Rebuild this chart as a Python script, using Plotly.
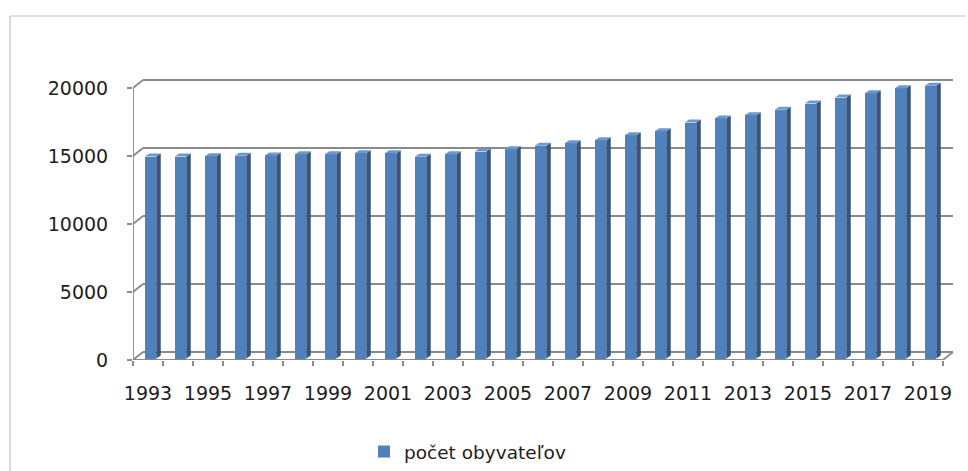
import numpy as np
import plotly.graph_objects as go

# ---- data ----
years = list(range(1993, 2020))
population = [14850, 14850, 14870, 14900, 14930, 15020, 15020, 15100, 15100,
              14830, 15020, 15220, 15390, 15640, 15830, 16050, 16420, 16710,
              17350, 17650, 17890, 18290, 18750, 19190, 19510, 19870, 20050]
y_ticks = [0, 5000, 10000, 15000, 20000]
label_years = [y for y in years if (y - 1993) % 2 == 0]
series_name = "počet obyvateľov"

# ---- geometry (pixel based layout) ----
W, H = 968, 471
ML, MR, MT, MB = 133, 13, 78, 111
plot_w = W - ML - MR
plot_h = H - MT - MB
px_per_year = 30.0
px_per_unit = 272.0 / 20000.0
x0 = years[0] - 0.5
x1 = years[-1] + 0.5
x_range = [x0, x0 + plot_w / px_per_year]
y_range = [0, plot_h / px_per_unit]

def dxp(p):  # pixels -> years
    return p / px_per_year

def dyp(p):  # pixels -> value units
    return p / px_per_unit

# back wall offset (perspective depth)
wall_dx, wall_dy = dxp(10), dyp(8)
# bar geometry
bar_shift = dxp(2.5)
bar_half = dxp(5.75)
bar_base = dyp(1.5)
side_dx, side_dy = dxp(4.5), dyp(3)

yrs = np.array(years, dtype=float)
vals = np.array(population, dtype=float)

FRONT = "#4F81BD"
SIDE = "#34557F"
TOP = "#6C98CE"
GRID = "#8A8A8A"
TXT = "#1E1E1E"
FONT = "DejaVu Sans"

fig = go.Figure()

# front faces
fig.add_trace(go.Bar(
    x=yrs + bar_shift, y=vals, base=bar_base, width=2 * bar_half,
    marker=dict(color=FRONT, line=dict(width=0)),
    name=series_name, showlegend=True, hoverinfo="x+y"))

# side faces
sx, sy = [], []
for xc, v in zip(yrs + bar_shift, vals):
    xr = xc + bar_half
    sx += [xr, xr + side_dx, xr + side_dx, xr, xr, None]
    sy += [bar_base, bar_base + side_dy, bar_base + v + side_dy, bar_base + v, bar_base, None]
fig.add_trace(go.Scatter(x=sx, y=sy, fill="toself", fillcolor=SIDE, mode="lines",
                         line=dict(width=0, color=SIDE), showlegend=False, hoverinfo="skip"))

# top faces
tx, ty = [], []
for xc, v in zip(yrs + bar_shift, vals):
    xl, xr = xc - bar_half, xc + bar_half
    t = bar_base + v
    tx += [xl, xr, xr + side_dx, xl + side_dx, xl, None]
    ty += [t, t, t + side_dy, t + side_dy, t, None]
fig.add_trace(go.Scatter(x=tx, y=ty, fill="toself", fillcolor=TOP, mode="lines",
                         line=dict(width=0, color=TOP), showlegend=False, hoverinfo="skip"))

shapes = []
line_style = dict(color=GRID, width=1.8)
for t in y_ticks:
    # back wall gridline
    shapes.append(dict(type="line", xref="x", yref="y", layer="below",
                       x0=x0 + wall_dx, x1=x1 + wall_dx, y0=t + wall_dy, y1=t + wall_dy,
                       line=line_style))
    # left wall connector
    shapes.append(dict(type="line", xref="x", yref="y", layer="below",
                       x0=x0, x1=x0 + wall_dx, y0=t, y1=t + wall_dy, line=line_style))
# front vertical axis line
shapes.append(dict(type="line", xref="x", yref="y", layer="below",
                   x0=x0, x1=x0, y0=0, y1=y_ticks[-1], line=line_style))
# front floor edge
shapes.append(dict(type="line", xref="x", yref="y", layer="below",
                   x0=x0, x1=x1, y0=0, y1=0, line=line_style))
# right floor connector
shapes.append(dict(type="line", xref="x", yref="y", layer="below",
                   x0=x1, x1=x1 + wall_dx, y0=0, y1=wall_dy, line=line_style))

# chart outer border (pixel -> paper)
def pxx(p):
    return (p - ML) / plot_w

def pxy(p):
    return (H - MB - p) / plot_h

border = dict(color="#BFBFBF", width=1.2)
shapes.append(dict(type="line", xref="paper", yref="paper",
                   x0=pxx(10), x1=pxx(10), y0=pxy(16), y1=pxy(H + 5), line=border))
shapes.append(dict(type="line", xref="paper", yref="paper",
                   x0=pxx(10), x1=pxx(966), y0=pxy(16), y1=pxy(16), line=border))

boundaries = [y - 0.5 for y in years] + [years[-1] + 0.5]

fig.update_layout(
    width=W, height=H,
    margin=dict(l=ML, r=MR, t=MT, b=MB, pad=0, autoexpand=False),
    paper_bgcolor="white", plot_bgcolor="white",
    font=dict(family=FONT, size=19, color=TXT),
    shapes=shapes,
    bargap=0,
    barmode="overlay",
    xaxis=dict(range=x_range, showgrid=False, zeroline=False, showline=False,
               automargin=False,
               tickmode="array", tickvals=label_years,
               ticktext=[str(y) for y in label_years],
               ticks="outside", ticklen=5, tickcolor="rgba(0,0,0,0)",
               ticklabelstandoff=11,
               minor=dict(tickmode="array", tickvals=boundaries, ticks="outside",
                          ticklen=5, tickcolor=GRID, tickwidth=1.8),
               tickfont=dict(family=FONT, size=19, color=TXT), fixedrange=True),
    yaxis=dict(range=y_range, showgrid=False, zeroline=False, showline=False,
               automargin=False,
               tickmode="array", tickvals=y_ticks, ticktext=[str(t) for t in y_ticks],
               ticks="outside", ticklen=5, tickcolor=GRID, tickwidth=1.8,
               ticklabelstandoff=15,
               tickfont=dict(family=FONT, size=19, color=TXT), fixedrange=True),
    legend=dict(orientation="h", xref="container", yref="container",
                x=364 / W, y=1 - 452 / H, xanchor="left", yanchor="middle",
                font=dict(family=FONT, size=18.5, color=TXT), bgcolor="rgba(0,0,0,0)"),
    showlegend=True,
)

fig.write_html("out.html", config={"displayModeBar": False},
               post_script="document.body.style.margin='0px';"
                           "document.body.style.overflow='hidden';")
